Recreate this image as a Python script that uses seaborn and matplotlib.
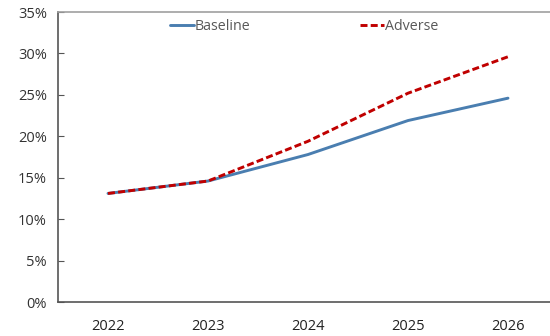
import matplotlib
matplotlib.use("Agg")
import matplotlib.pyplot as plt
import seaborn as sns
import pandas as pd
from matplotlib.ticker import FuncFormatter

years = ["2022", "2023", "2024", "2025", "2026"]
baseline = [13.1, 14.6, 17.8, 21.9, 24.6]
adverse = [13.1, 14.6, 19.4, 25.2, 29.6]

df = pd.DataFrame({
    "Year": years * 2,
    "Value": baseline + adverse,
    "Scenario": ["Baseline"] * len(years) + ["Adverse"] * len(years),
})

sns.set_style("white")
plt.rcParams["font.family"] = ["Open Sans", "DejaVu Sans"]

fig = plt.figure(figsize=(5.5, 3.36), dpi=100)
ax = fig.add_axes([58/550, 1 - 302/336, (550-58)/550, (302-12)/336])

sns.lineplot(data=df, x="Year", y="Value", hue="Scenario", style="Scenario",
             palette={"Baseline": "#4A7EB0", "Adverse": "#C00000"},
             dashes={"Baseline": "", "Adverse": (2.4, 1.1)},
             linewidth=2.1, ax=ax, sort=False)

ax.set_ylim(0, 35)
ax.set_yticks(range(0, 36, 5))
ax.yaxis.set_major_formatter(FuncFormatter(lambda v, p: f"{int(v)}%"))
ax.set_xlim(-0.5, 4.42)
ax.set_xticks(range(len(years)))
ax.set_xticklabels(years)
ax.set_xticks([0.5, 1.5, 2.5, 3.5], minor=True)
ax.tick_params(axis="x", which="major", length=0, pad=12, labelsize=10.5, labelcolor="#222222")
ax.tick_params(axis="x", which="minor", direction="in", length=5, color="#555555", width=1)
ax.tick_params(axis="y", direction="in", length=4, color="#555555", labelsize=10.5,
               labelcolor="#333333", pad=8, left=True)
ax.set_xlabel("")
ax.set_ylabel("")

for s in ["left", "bottom"]:
    ax.spines[s].set_color("#555555")
    ax.spines[s].set_linewidth(1.2)
ax.spines["top"].set_color("#A0A0A0")
ax.spines["top"].set_linewidth(1.2)
ax.spines["right"].set_visible(False)

leg = ax.legend(loc="upper center", ncol=2, frameon=False, fontsize=10.3,
                bbox_to_anchor=(0.5, 1.02), columnspacing=7.6, handlelength=1.7,
                handletextpad=0.05, labelcolor="#595959")

fig.savefig("out.png", dpi=100)
